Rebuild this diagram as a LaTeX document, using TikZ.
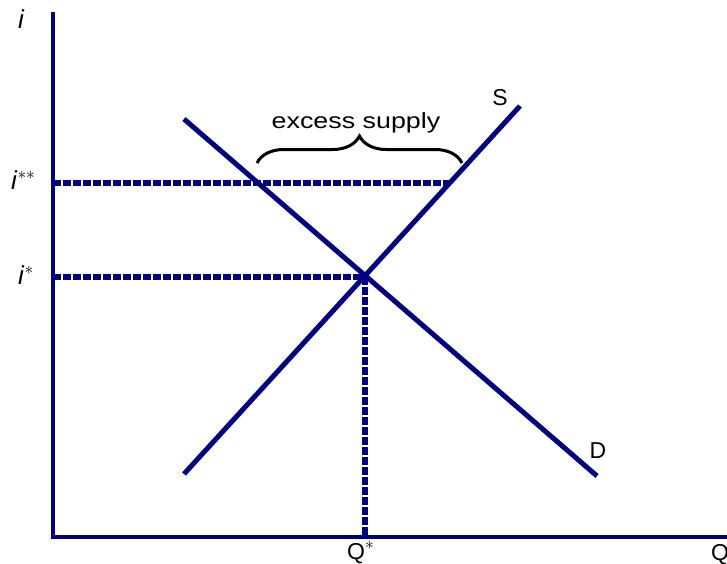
\documentclass[tikz,border=0pt]{standalone}
\usepackage{fontspec}
\setmainfont{Liberation Sans}
\newfontfamily\widefont[FakeStretch=1.22]{Liberation Sans}
\usetikzlibrary{decorations.pathreplacing}
\definecolor{navy}{RGB}{0,0,128}
\begin{document}
\begin{tikzpicture}[x=1pt,y=-1pt,
  curve/.style={navy, line width=5pt},
  axisline/.style={navy, line width=4pt},
  guide/.style={navy, line width=5.5pt, dash pattern=on 7.5pt off 2.5pt},
  lbl/.style={font=\fontsize{23}{27}\selectfont, inner sep=0pt},
  ilbl/.style={font=\fontsize{26}{30}\selectfont, inner sep=0pt}]
\useasboundingbox (0,0) rectangle (727,563);
% axes
\coordinate (O) at (53,537);
\coordinate (ytop) at (53,12);
\coordinate (xend) at (727,537);
\draw[axisline] (ytop) -- (O) -- (xend);
% key points
\coordinate (D1) at (184,119);
\coordinate (D2) at (597,476);
\coordinate (S1) at (184,474);
\coordinate (S2) at (520,106);
\coordinate (E) at (365,277);
\coordinate (ieq) at (53,277);
\coordinate (Qeq) at (365,537);
\coordinate (iss) at (53,183);
\coordinate (Sh) at (450,183);
% guide lines
\draw[guide] (ieq) -- (E);
\draw[guide] (E) -- (Qeq);
\draw[guide] (iss) -- (Sh);
% curves
\draw[curve] (D1) -- (D2);
\draw[curve] (S1) -- (S2);
% brace
\coordinate (bl) at (257,163);
\coordinate (br) at (462,163);
\draw[decorate, decoration={brace, amplitude=27pt}, line width=3pt] (bl) -- (br);
\node[anchor=base, inner sep=0pt] (excess) at (356,128) {\widefont\fontsize{22}{26}\selectfont excess supply};
% labels
\node[lbl, anchor=base] (Slbl) at (500,105) {S};
\node[lbl, anchor=base] (Dlbl) at (598,458) {D};
\node[ilbl, anchor=base west] (ilbl) at (18,28) {\textit{i}};
\node[ilbl, anchor=base west] (issl) at (11,189) {\textit{i}$^{**}$};
\node[ilbl, anchor=base west] (iseq) at (18,284) {\textit{i}$^{*}$};
\node[lbl, anchor=base west] (Qsl) at (347,559) {Q$^{*}$};
\node[lbl, anchor=base west] (Ql) at (711,560) {Q};
\end{tikzpicture}
\end{document}
